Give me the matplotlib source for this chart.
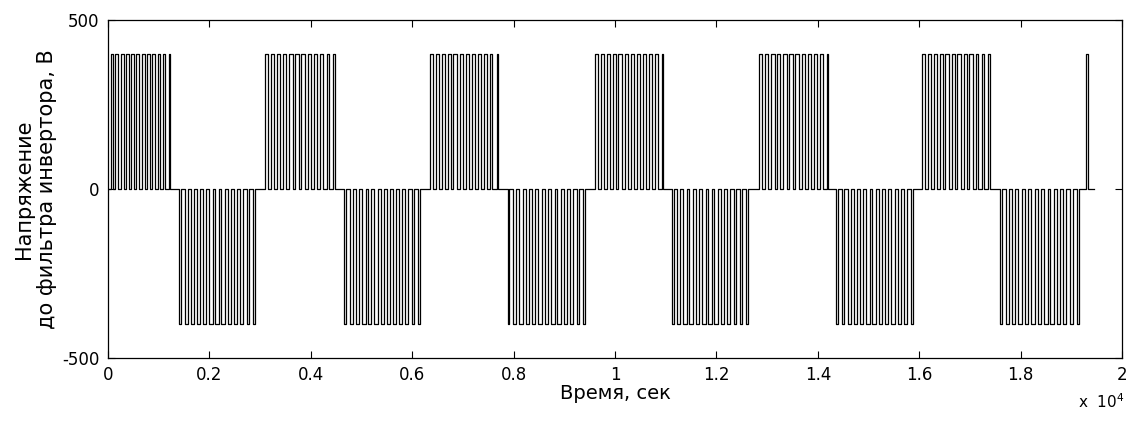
import numpy as np
import matplotlib.pyplot as plt
from matplotlib.ticker import FuncFormatter

plt.rcParams['axes.unicode_minus'] = False

# inverter output before the filter: unipolar PWM, +/-400 V
v_dc = 400
t_end = 19444

# pulse packets (start, end) in seconds
pos_blocks = [(20, 1263), (3060, 4520), (6317, 7738), (9574, 10995),
              (12811, 14252), (16029, 17431), (19286, 19345)]
neg_blocks = [(1362, 2941), (4619, 6198), (7837, 9455), (11074, 12673),
              (14312, 15911), (17549, 19188)]

# relative pulse widths inside one packet
pos_duty = [0.45, 0.55, 0.6, 0.5, 0.65, 0.55, 0.6, 0.5, 0.55, 0.45, 0.35, 0.25]
neg_duty = [0.3, 0.45, 0.55, 0.6, 0.5, 0.65, 0.55, 0.6, 0.5, 0.55, 0.45, 0.4, 0.3]
last_duty = [0.6]


def packet(start, end, duty, level):
    ts, vs = [], []
    n = len(duty)
    T = (end - start) / n
    for k, d in enumerate(duty):
        c = start + (k + 0.5) * T
        a, b = c - d * T / 2, c + d * T / 2
        ts += [a, a, b, b]
        vs += [0, level, level, 0]
    return ts, vs


t = [0]
v = [0]
events = [(s, e, pos_duty if e - s > 200 else last_duty, v_dc) for s, e in pos_blocks]
events += [(s, e, neg_duty, -v_dc) for s, e in neg_blocks]
for s, e, d, lvl in sorted(events):
    ts, vs = packet(s, e, d, lvl)
    t += ts
    v += vs
t.append(t_end)
v.append(0)

fig = plt.figure(figsize=(11.29, 4.21), dpi=100)
ax = fig.add_axes([0.0957, 0.1496, 0.8981, 0.8029])
ax.plot(t, v, color='black', lw=0.9)

ax.set_xlim(0, 20000)
ax.set_ylim(-500, 500)
ax.set_yticks([-500, 0, 500])
ax.set_xticks(np.arange(0, 20001, 2000))
ax.xaxis.set_major_formatter(FuncFormatter(lambda x, p: f"{x / 1e4:g}"))
ax.tick_params(direction='in', top=True, right=True, length=5, labelsize=12, pad=6)
for s in ax.spines.values():
    s.set_linewidth(0.9)

ax.set_xlabel("Время, сек", fontsize=14, labelpad=0)
ax.set_ylabel("Напряжение\nдо фильтра инвертора, В", fontsize=15)
ax.yaxis.set_label_coords(-0.05, 0.5)
fig.text(0.975, 0.03, r"x  10$^4$", fontsize=11, ha='center')

fig.savefig("out.png", dpi=100)
